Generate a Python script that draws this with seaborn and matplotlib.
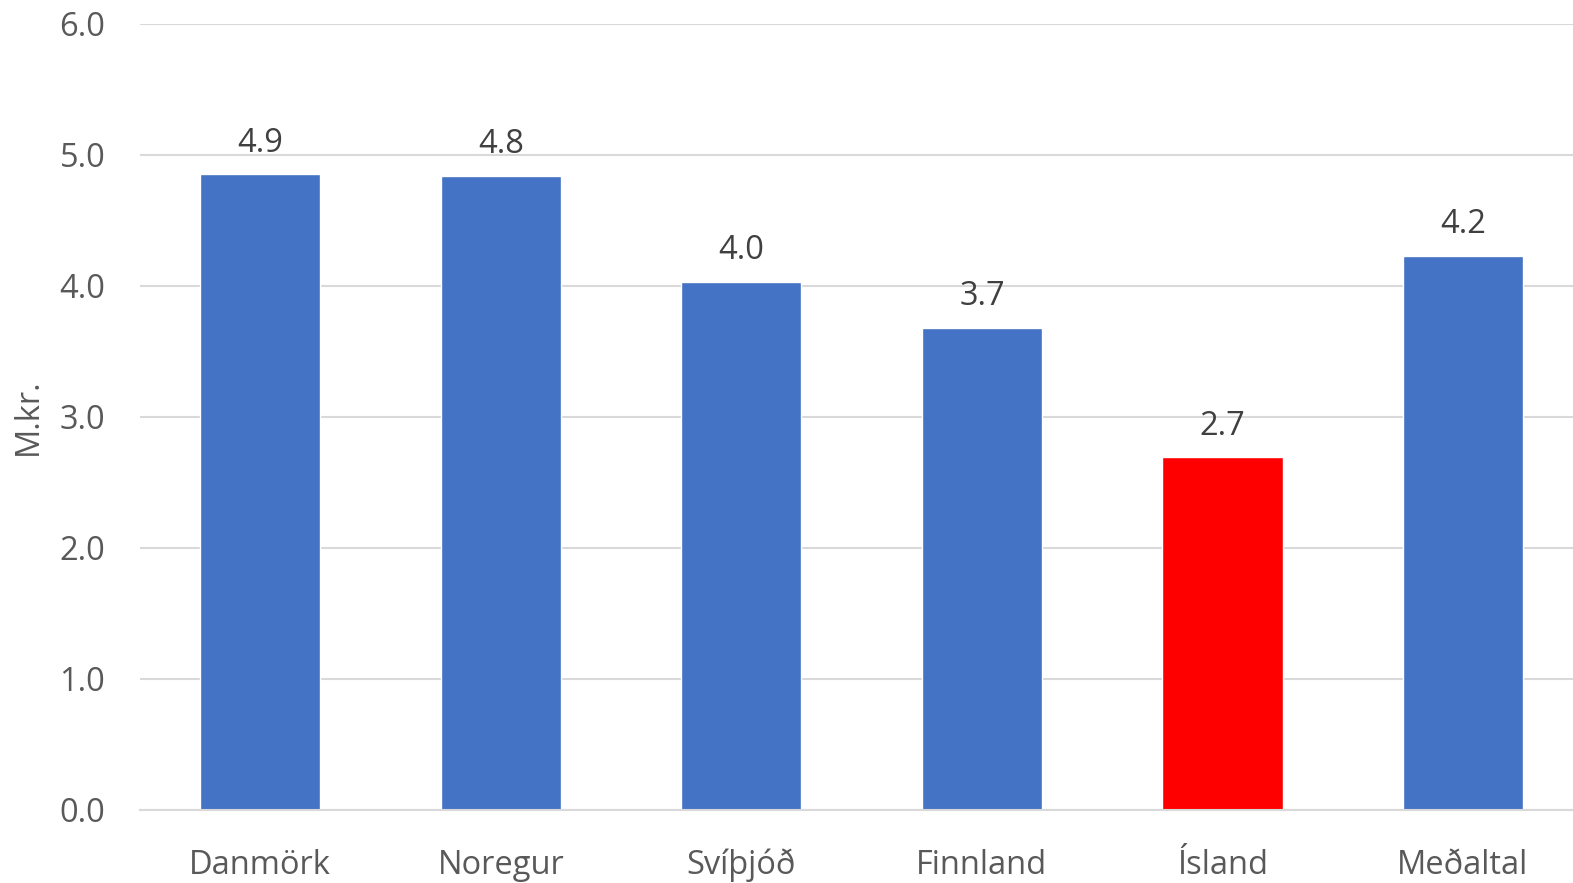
import matplotlib
matplotlib.use("Agg")
import matplotlib.pyplot as plt
import seaborn as sns
import pandas as pd

categories = ["Danmörk", "Noregur", "Svíþjóð", "Finnland", "Ísland", "Meðaltal"]
values = [4.85, 4.84, 4.03, 3.68, 2.69, 4.23]
value_labels = ["4.9", "4.8", "4.0", "3.7", "2.7", "4.2"]
colors = ["#4472C4", "#4472C4", "#4472C4", "#4472C4", "#FF0000", "#4472C4"]
yticks = [0.0, 1.0, 2.0, 3.0, 4.0, 5.0, 6.0]
ylabel = "M.kr."

sns.set_theme(style="white")
plt.rcParams['font.family'] = ['Open Sans', 'DejaVu Sans']
text_color = "#595959"
fs = 23.5

df = pd.DataFrame({"land": categories, "val": values})

fig = plt.figure(figsize=(15.73, 8.83), dpi=100)
ax = fig.add_axes([0.089, 0.083, 0.9175, 0.890])

sns.barplot(data=df, x="land", y="val", hue="land", palette=colors, legend=False,
            width=0.5, ax=ax, saturation=1)

for i, (v, lab) in enumerate(zip(values, value_labels)):
    ax.text(i, v + 0.11, lab, ha="center", va="bottom", fontsize=fs, color="#404040")

ax.set_ylim(0, 6.0)
ax.set_xlim(-0.5, 5.5)
ax.set_yticks(yticks)
ax.set_yticklabels([f"{t:.1f}" for t in yticks])
ax.yaxis.grid(True, color="#D9D9D9", linewidth=1.5)
ax.set_axisbelow(True)
for s in ["top", "right", "left"]:
    ax.spines[s].set_visible(False)
ax.spines["bottom"].set_color("#D9D9D9")
ax.spines["bottom"].set_linewidth(1.5)
ax.tick_params(axis="y", length=0, pad=25, labelsize=fs, labelcolor=text_color)
ax.tick_params(axis="x", length=0, pad=28, labelsize=fs, labelcolor=text_color)
ax.set_xlabel("")
ax.set_ylabel(ylabel, fontsize=fs, color=text_color)
ax.yaxis.set_label_coords(-0.066, 0.5)

fig.savefig("out.png", dpi=100)
